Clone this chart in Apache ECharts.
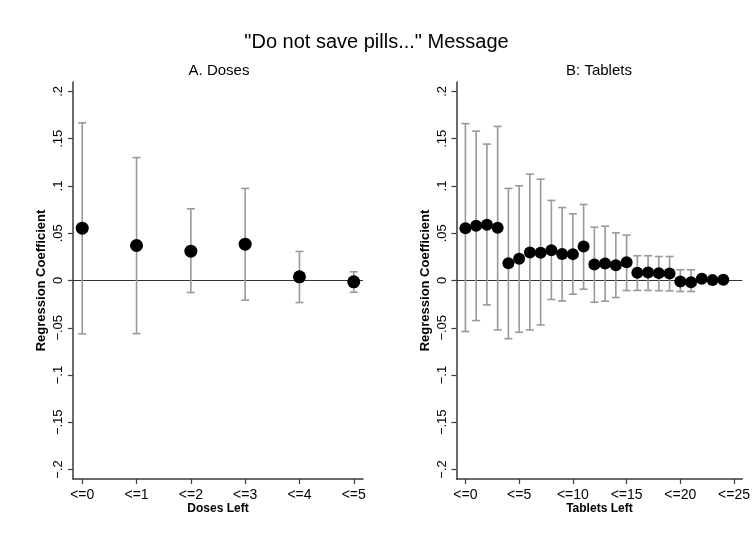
<!DOCTYPE html>
<html>
<head>
<meta charset="utf-8">
<script src="https://cdn.jsdelivr.net/npm/echarts@6/dist/echarts.min.js"></script>
<style>html,body{margin:0;padding:0;background:#fff}#c{width:753px;height:539px}</style>
</head>
<body>
<div id="c"></div>
<script>
// ---- data ----
const doseX = [0, 1, 2, 3, 4, 5];
const doseCoef = [0.0554, 0.037, 0.031, 0.0384, 0.0039, -0.0014];
const doseHi = [0.1668, 0.130, 0.0758, 0.0974, 0.0307, 0.0092];
const doseLo = [-0.0565, -0.0562, -0.0127, -0.0208, -0.0233, -0.0124];

const tabX = [0,1,2,3,4,5,6,7,8,9,10,11,12,13,14,15,16,17,18,19,20,21,22,23,24];
const tabCoef = [0.0554,0.0578,0.0589,0.0557,0.0183,0.0229,0.0296,0.0293,0.0321,0.0281,0.0279,0.036,0.0169,0.018,0.0162,0.0194,0.0081,0.0085,0.0078,0.0074,-0.0011,-0.0018,0.0018,0.0004,0.0007];
const tabHi = [0.166,0.158,0.1443,0.163,0.0974,0.1002,0.1125,0.1072,0.0847,0.0772,0.0705,0.0804,0.0564,0.0575,0.0504,0.048,0.0262,0.0262,0.0254,0.0254,0.0113,0.0113,0.0055,0.004,0.004];
const tabLo = [-0.054,-0.0424,-0.0258,-0.0523,-0.0615,-0.0548,-0.0523,-0.047,-0.0201,-0.0216,-0.0145,-0.0092,-0.023,-0.0219,-0.018,-0.0106,-0.0105,-0.0105,-0.0108,-0.011,-0.0116,-0.0116,-0.002,-0.0035,-0.003];

const doseTicks = [0, 1, 2, 3, 4, 5];
const tabTicks = [0, 5, 10, 15, 20, 25];
const xTickPrefix = '<=';
const yTicks = [-0.2, -0.15, -0.1, -0.05, 0, 0.05, 0.1, 0.15, 0.2];
const yTickLabels = ['\u2212.2', '\u2212.15', '\u2212.1', '\u2212.05', '0', '.05', '.1', '.15', '.2'];

const mainTitle = '"Do not save pills..." Message';
const panelTitles = ['A. Doses', 'B: Tablets'];
const xNames = ['Doses Left', 'Tablets Left'];
const yName = 'Regression Coefficient';

// ---- chart ----
const FONT = '"Liberation Sans", Arial, Helvetica, sans-serif';
const AXC = '#3a3a3a';

function yFmt(v) {
  let best = 0, bd = Infinity;
  yTicks.forEach((t, i) => { const d = Math.abs(t - v); if (d < bd) { bd = d; best = i; } });
  return yTickLabels[best];
}

function xAxis(idx, min, max, ticks) {
  return {
    type: 'value', gridIndex: idx, min: min, max: max,
    name: xNames[idx], nameLocation: 'middle', nameGap: 24, nameMoveOverlap: false,
    nameTextStyle: { fontFamily: FONT, fontWeight: 'bold', fontSize: 12, color: '#000' },
    axisLine: { show: true, onZero: false, lineStyle: { color: AXC, width: 1.5 } },
    axisTick: { show: true, length: 5, customValues: ticks, lineStyle: { color: AXC, width: 1.2 } },
    axisLabel: { customValues: ticks, margin: 9, fontFamily: FONT, fontSize: 14, color: '#000',
      formatter: v => xTickPrefix + Math.round(v) },
    splitLine: { show: false }
  };
}
function yAxis(idx) {
  return {
    type: 'value', gridIndex: idx, min: -0.21, max: 0.21,
    name: yName, nameLocation: 'middle', nameGap: 25, nameMoveOverlap: false,
    nameTextStyle: { fontFamily: FONT, fontWeight: 'bold', fontSize: 13, color: '#000' },
    axisLine: { show: true, onZero: false, lineStyle: { color: AXC, width: 1.5 } },
    axisTick: { show: true, length: 5, customValues: yTicks, lineStyle: { color: AXC, width: 1.2 } },
    axisLabel: { customValues: yTicks, rotate: 90, margin: 8, fontFamily: FONT, fontSize: 13, color: '#000',
      formatter: yFmt },
    splitLine: { show: false }
  };
}

function errBars(idx, xs, lo, hi) {
  return {
    type: 'custom', xAxisIndex: idx, yAxisIndex: idx, z: 2,
    data: xs.map((x, i) => [x, lo[i], hi[i]]),
    encode: { x: 0, y: [1, 2] },
    renderItem: function (params, api) {
      const x = api.value(0);
      const a = api.coord([x, api.value(2)]);
      const b = api.coord([x, api.value(1)]);
      const w = 4;
      const st = { stroke: '#999999', lineWidth: 1.6, fill: null };
      return { type: 'group', children: [
        { type: 'line', shape: { x1: a[0], y1: a[1], x2: b[0], y2: b[1] }, style: st },
        { type: 'line', shape: { x1: a[0] - w, y1: a[1], x2: a[0] + w, y2: a[1] }, style: st },
        { type: 'line', shape: { x1: b[0] - w, y1: b[1], x2: b[0] + w, y2: b[1] }, style: st }
      ]};
    }
  };
}
function dots(idx, xs, ys, size) {
  return {
    type: 'scatter', xAxisIndex: idx, yAxisIndex: idx, z: 5,
    symbol: 'circle', symbolSize: size,
    itemStyle: { color: '#000', opacity: 1 },
    data: xs.map((x, i) => [x, ys[i]]),
    markLine: {
      silent: true, symbol: 'none', z: 1,
      label: { show: false },
      lineStyle: { color: '#333', width: 1.1, type: 'solid' },
      data: [{ yAxis: 0 }]
    }
  };
}

const chart = echarts.init(document.getElementById('c'), null, { renderer: 'canvas' });
chart.setOption({
  backgroundColor: '#fff',
  animation: false,
  title: [
    { text: mainTitle, left: 'center', top: 27, textStyle: { fontFamily: FONT, fontWeight: 'normal', fontSize: 20, color: '#000' } }
  ],
  graphic: [
    { type: 'text', x: 219, y: 71, style: { text: panelTitles[0], x: 0, y: 0, align: 'center', verticalAlign: 'middle', font: 'normal 15px ' + FONT, fill: '#000' } },
    { type: 'text', x: 599, y: 71, style: { text: panelTitles[1], x: 0, y: 0, align: 'center', verticalAlign: 'middle', font: 'normal 15px ' + FONT, fill: '#000' } }
  ],
  grid: [
    { left: 73, top: 82, width: 290, height: 397 },
    { left: 456.5, top: 82, width: 288.5, height: 397 }
  ],
  xAxis: [xAxis(0, -0.17, 5.17, doseTicks), xAxis(1, -0.83, 25.77, tabTicks)],
  yAxis: [yAxis(0), yAxis(1)],
  series: [
    errBars(0, doseX, doseLo, doseHi),
    dots(0, doseX, doseCoef, 13),
    errBars(1, tabX, tabLo, tabHi),
    dots(1, tabX, tabCoef, 12)
  ]
});
</script>
</body>
</html>
